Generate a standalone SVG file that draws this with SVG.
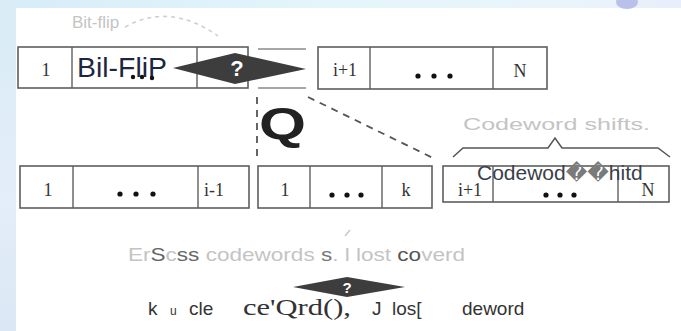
<svg xmlns="http://www.w3.org/2000/svg" width="681" height="331" viewBox="0 0 681 331">
<defs>
<linearGradient id="topbg" x1="0" y1="0" x2="1" y2="0">
<stop offset="0" stop-color="#d6ecf7"/>
<stop offset="0.5" stop-color="#e4f6fb"/>
<stop offset="0.85" stop-color="#eaf4fb"/>
<stop offset="1" stop-color="#e8eefa"/>
</linearGradient>
<linearGradient id="leftbg" x1="0" y1="0" x2="0" y2="1">
<stop offset="0" stop-color="#d8ecf6"/>
<stop offset="0.6" stop-color="#e4edfa"/>
<stop offset="1" stop-color="#dbe7f4"/>
</linearGradient>
</defs>
<style>
.box{fill:#fff;stroke:#5e5e5e;stroke-width:1.6}
.div{stroke:#5e5e5e;stroke-width:1.4}
.num{font-family:"Liberation Serif",serif;font-size:18px;fill:#333;text-anchor:middle}
.dot{fill:#111}
.faint{font-family:"Liberation Sans",sans-serif;fill:#c4c4c4}
.dia{fill:#3d3d3d}
.q{font-family:"Liberation Sans",sans-serif;font-weight:bold;fill:#fff;text-anchor:middle}
.dash{fill:none;stroke:#555;stroke-width:1.8;stroke-dasharray:7 6}
</style>
<rect width="681" height="331" fill="#fff"/>
<rect x="0" y="0" width="681" height="8" fill="url(#topbg)"/>
<rect x="0" y="0" width="16" height="331" fill="url(#leftbg)"/>
<ellipse cx="627" cy="2" rx="11" ry="7" fill="#b9c0ea"/>

<g id="connectors">
<path d="M125,27 Q170,2 218,36" fill="none" stroke="#cfcfcf" stroke-width="1.6" stroke-dasharray="4 4"/>
<line x1="258" y1="49" x2="306" y2="49" stroke="#8a8a8a" stroke-width="1.6"/>
<line x1="258" y1="88" x2="306" y2="88" stroke="#8a8a8a" stroke-width="1.6"/>
<line x1="257" y1="97" x2="257" y2="156" class="dash" stroke-dasharray="5 4"/>
<line x1="308" y1="97" x2="433" y2="158" class="dash"/>
<path d="M453,157 L463,148 L548,148 L555,138 L562,148 L658,148 L670,157" fill="none" stroke="#555" stroke-width="1.5"/>
<line x1="345" y1="236" x2="350" y2="230" stroke="#c8c8c8" stroke-width="1.5"/>
</g>

<g id="label-bitflip">
<text x="72" y="28" class="faint" font-size="17">Bit-flip</text>
</g>

<g id="top-left">
<rect x="18" y="47" width="230" height="41" class="box"/>
<line x1="72" y1="47" x2="72" y2="88" class="div"/>
<line x1="197" y1="47" x2="197" y2="88" class="div"/>
<text x="46" y="76" class="num">1</text>
<text x="77" y="77" font-family="Liberation Sans, sans-serif" font-size="27" fill="#1c2640" textLength="90" lengthAdjust="spacingAndGlyphs">Bil-FliP</text>
<circle cx="133" cy="77" r="2.2" class="dot"/>
<circle cx="142" cy="77" r="2.2" class="dot"/>
<circle cx="152" cy="78" r="2.2" class="dot"/>
</g>

<g id="top-diamond">
<polygon points="173,68 235,53 306,69 235,84" class="dia"/>
<text x="237" y="76" class="q" font-size="22">?</text>
</g>

<g id="top-right">
<rect x="318" y="47" width="229" height="42" class="box"/>
<line x1="370" y1="47" x2="370" y2="89" class="div"/>
<line x1="493" y1="47" x2="493" y2="89" class="div"/>
<text x="345" y="76" class="num">i+1</text>
<circle cx="418" cy="76" r="2.6" class="dot"/>
<circle cx="434" cy="76" r="2.6" class="dot"/>
<circle cx="450" cy="76" r="2.6" class="dot"/>
<text x="520" y="77" class="num" font-size="20">N</text>
</g>

<g id="q-label">
<text x="259" y="139" font-family="Liberation Sans, sans-serif" font-weight="bold" font-size="44" fill="#222" textLength="47" lengthAdjust="spacingAndGlyphs">Q</text>
</g>

<g id="shift-label">
<text x="463" y="130" class="faint" font-size="17" textLength="187" lengthAdjust="spacingAndGlyphs">Codeword shifts.</text>
</g>

<g id="bottom-a">
<rect x="20" y="166" width="229" height="42" class="box"/>
<line x1="73" y1="166" x2="73" y2="208" class="div"/>
<line x1="198" y1="166" x2="198" y2="208" class="div"/>
<text x="48" y="196" class="num">1</text>
<circle cx="120" cy="194" r="2.6" class="dot"/>
<circle cx="136" cy="194" r="2.6" class="dot"/>
<circle cx="153" cy="194" r="2.6" class="dot"/>
<text x="214" y="196" class="num">i-1</text>
</g>

<g id="bottom-b">
<rect x="258" y="166" width="174" height="42" class="box"/>
<line x1="310" y1="166" x2="310" y2="208" class="div"/>
<line x1="382" y1="166" x2="382" y2="208" class="div"/>
<text x="285" y="196" class="num">1</text>
<circle cx="332" cy="195" r="2.6" class="dot"/>
<circle cx="347" cy="195" r="2.6" class="dot"/>
<circle cx="361" cy="195" r="2.6" class="dot"/>
<text x="406" y="196" class="num">k</text>
</g>

<g id="bottom-c">
<rect x="443" y="166" width="226" height="36" class="box"/>
<line x1="493" y1="166" x2="493" y2="202" class="div"/>
<line x1="618" y1="166" x2="618" y2="202" class="div"/>
<text x="470" y="196" class="num" font-size="19">i+1</text>
<circle cx="546" cy="195" r="2.6" class="dot"/>
<circle cx="560" cy="195" r="2.6" class="dot"/>
<circle cx="574" cy="195" r="2.6" class="dot"/>
<text x="648" y="196" class="num" font-size="20">N</text>
<text x="477" y="180" font-family="Liberation Sans, DejaVu Sans, sans-serif" font-size="21" fill="#3a3f4c">Codewod<tspan fill="#7a7a7a">��</tspan>hitd</text>
</g>

<g id="bottom-label">
<text x="128" y="261" class="faint" font-size="19" textLength="337" lengthAdjust="spacingAndGlyphs">Er<tspan fill="#666">S</tspan>c<tspan fill="#666">ss</tspan> codewords <tspan fill="#777">s</tspan>. l lost <tspan fill="#555">co</tspan>verd</text>
</g>

<g id="bottom-diamond">
<polygon points="293,287 347,277 405,287 347,297" class="dia"/>
<text x="347" y="293" class="q" font-size="15">?</text>
</g>

<g id="bottom-text">
<text y="315" font-family="Liberation Sans, sans-serif" font-size="19" fill="#333">
<tspan x="148">k</tspan><tspan x="170" font-size="12">u</tspan><tspan x="189">cle</tspan><tspan x="243" font-family="Liberation Serif, serif" font-size="23" textLength="108" lengthAdjust="spacingAndGlyphs">ce'Qrd(),</tspan><tspan x="372">J</tspan><tspan x="392">los[</tspan><tspan x="462">deword</tspan>
</text>
</g>
</svg>
